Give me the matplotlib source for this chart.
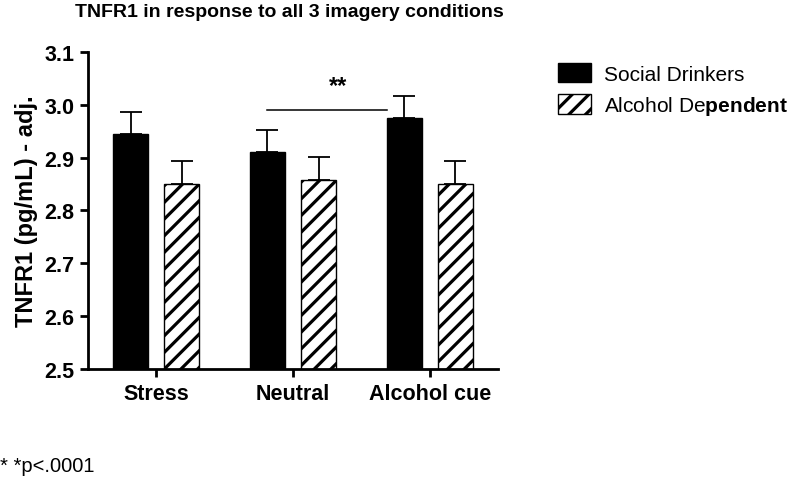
import matplotlib
matplotlib.use("Agg")
import matplotlib.pyplot as plt
import numpy as np

plt.rcParams['font.family'] = ['Liberation Sans', 'DejaVu Sans']
plt.rcParams['mathtext.fontset'] = 'custom'
plt.rcParams['mathtext.rm'] = 'Liberation Sans'
plt.rcParams['mathtext.bf'] = 'Liberation Sans:bold'
plt.rcParams['hatch.linewidth'] = 2.3

categories = ["Stress", "Neutral", "Alcohol cue"]
social = [2.944, 2.911, 2.975]
social_err = [0.042, 0.042, 0.041]
dependent = [2.850, 2.857, 2.850]
dependent_err = [0.044, 0.044, 0.043]
yticks = [2.5, 2.6, 2.7, 2.8, 2.9, 3.0, 3.1]

fig = plt.figure(figsize=(8, 4.81), dpi=100)
ax = fig.add_axes([0.11, 0.2308, 0.5125, 0.659])

x = np.arange(len(categories))
w = 0.256
off = 0.187
ax.bar(x - off, social, w, color='black', edgecolor='black', linewidth=1,
       label='Social Drinkers', zorder=2)
ax.bar(x + off, dependent, w, color='white', edgecolor='black', linewidth=1,
       hatch='//', label=r'Alcohol De$\mathbf{pendent}$', zorder=2)
ax.errorbar(x - off, social, yerr=[np.zeros(3), social_err], fmt='none',
            ecolor='black', elinewidth=1.3, capsize=8, capthick=1.3, zorder=1)
ax.errorbar(x + off, dependent, yerr=[np.zeros(3), dependent_err], fmt='none',
            ecolor='black', elinewidth=1.3, capsize=8, capthick=1.3, zorder=1)

# significance
ax.plot([1 - off, 2 - off - w / 2], [2.990, 2.990], color='black', lw=1.1)
ax.text(1.33, 3.037, "**", ha='center', va='center', fontsize=17, fontweight='bold')

ax.set_xlim(-0.5, 2.5)
ax.set_ylim(2.5, 3.1)
ax.set_yticks(yticks)
ax.set_yticklabels([f"{t:.1f}" for t in yticks], fontsize=15.5, fontweight='bold')
ax.set_xticks(x)
ax.set_xticklabels(categories, fontsize=15.5, fontweight='bold')
ax.spines['top'].set_visible(False)
ax.spines['right'].set_visible(False)
ax.spines['left'].set_linewidth(2)
ax.spines['bottom'].set_linewidth(2)
ax.tick_params(axis='both', width=2, length=6, direction='out', pad=4)
ax.set_ylabel("TNFR1 (pg/mL) - adj.", fontsize=17, fontweight='bold', labelpad=4)

fig.text(0.094, 0.975, "TNFR1 in response to all 3 imagery conditions", fontsize=14,
         fontweight='bold', ha='left', va='center')

leg = ax.legend(loc='upper left', bbox_to_anchor=(1.1, 1.025), frameon=False,
                fontsize=15, handlelength=1.6, handleheight=1.05, handletextpad=0.6,
                labelspacing=0.5)

fig.text(0.0, 0.03, "* *p<.0001", fontsize=14.5, ha='left', va='center')

fig.savefig("out.png", dpi=100)
